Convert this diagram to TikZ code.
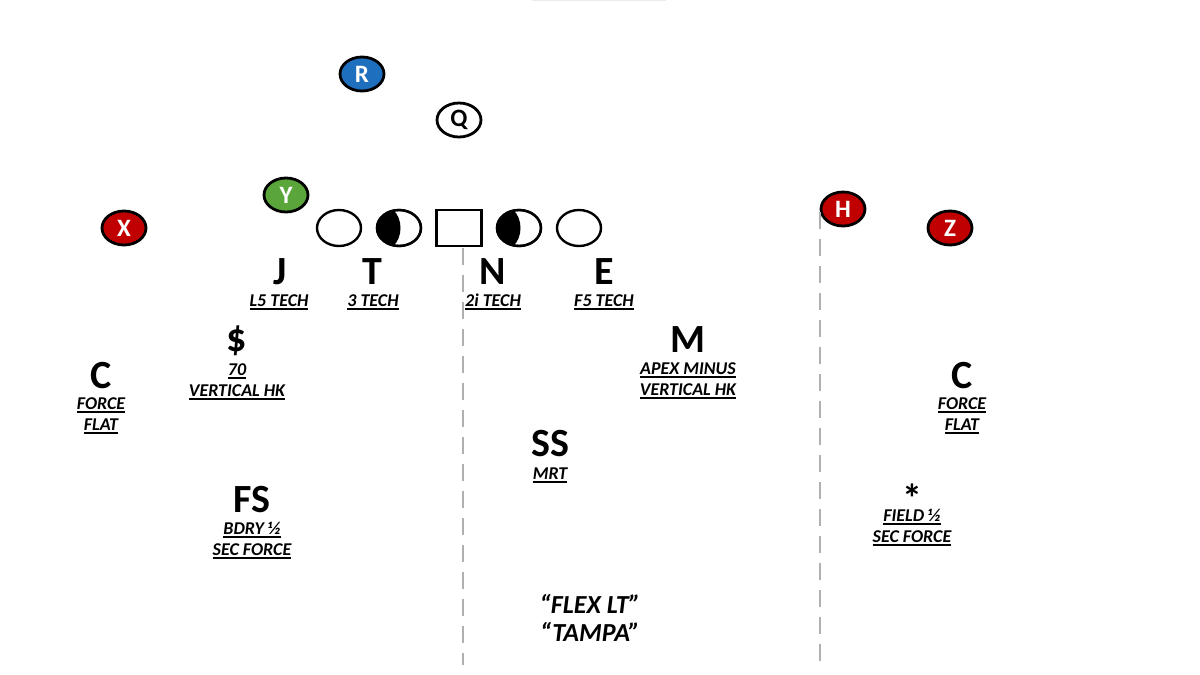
\documentclass[tikz,border=0pt]{standalone}
\usepackage{fontspec}
\setmainfont{Carlito}
\usetikzlibrary{shapes.geometric,calc}
\newcommand\ulx[1]{\leavevmode\vtop{\hbox{#1}\kern2.2pt\hrule height 1.4pt}}
\definecolor{pred}{HTML}{C00000}
\definecolor{pblue}{HTML}{1F6FBF}
\definecolor{pgreen}{HTML}{5AA63A}
\definecolor{dashgray}{HTML}{B0B0B0}
\tikzset{
  player/.style={ellipse, draw=black, line width=2.8pt, minimum width=44, minimum height=34, inner sep=0,
    text=white, font=\fontsize{25}{25}\selectfont\bfseries},
  lineman/.style={ellipse, draw=black, line width=2.4pt, minimum width=44, minimum height=36, inner sep=0},
  ctr/.style={rectangle, draw=black, line width=2.4pt, minimum width=45, minimum height=36, inner sep=0},
  big/.style={anchor=base, inner sep=0, font=\fontsize{40}{40}\selectfont\bfseries},
  sub/.style={anchor=base, inner sep=0, font=\fontsize{18}{18}\selectfont\bfseries\itshape},
  call/.style={anchor=base, inner sep=0, font=\fontsize{26}{26}\selectfont\bfseries\itshape},
  zone/.style={draw=dashgray, line width=2.8pt, dash pattern=on 17pt off 10pt}
}
\begin{document}
\begin{tikzpicture}[x=1pt,y=-1pt]
\useasboundingbox (0,0) rectangle (1200,675);
% faint slide artifact at top
\draw[black!8, line width=1.5pt] (532,0.5) -- (666,0.5);

% offense
\node[player, fill=pblue] (R) at (362,74) {R};
\node[player, fill=white, text=black] (Q) at (459,120) {Q};
\node[player, fill=pgreen] (Y) at (286,195) {Y};
\node[player, fill=pred] (X) at (124,228) {X};
\node[player, fill=pred] (H) at (843,209) {H};
\node[player, fill=pred] (Z) at (950,228) {Z};

\node[lineman] (LT) at (339,228) {};
\node[lineman] (LG) at (399,228) {};
\node[ctr] (OC) at (459,228) {};
\node[lineman] (RG) at (519,228) {};
\node[lineman] (RT) at (579,228) {};

\foreach \n in {LG,RG}{
  \begin{scope}
    \clip (\n.center) ellipse [x radius=22, y radius=18];
    \fill[black] ($(\n.center)+(-30,-25)$) -- ($(\n.center)+(-6,-25)$) -- ($(\n.center)+(-6,-18)$)
      .. controls ($(\n.center)+(4,-10)$) and ($(\n.center)+(4,10)$) .. ($(\n.center)+(-6,18)$)
      -- ($(\n.center)+(-6,25)$) -- ($(\n.center)+(-30,25)$) -- cycle;
  \end{scope}
  \draw[line width=2.4pt] (\n.center) ellipse [x radius=22, y radius=18];
}

% zone lines
\coordinate (d1a) at (463,248);
\coordinate (d1b) at (463,665);
\coordinate (d2a) at (820,212);
\coordinate (d2b) at (820,662);
\draw[zone] (d1a) -- (d1b);
\draw[zone] (d2a) -- (d2b);

% defensive line
\node[big] (J) at (280,284) {J};
\node[sub] (Jt) at (279,306) {\ulx{L5 TECH}};
\node[big] (T) at (372,284) {T};
\node[sub] (Tt) at (373,306) {\ulx{3 TECH}};
\node[big] (N) at (493,284) {N};
\node[sub] (Nt) at (493,306) {\ulx{2i TECH}};
\node[big] (E) at (604,284) {E};
\node[sub] (Et) at (604,306) {\ulx{F5 TECH}};

% linebackers
\node[big] (D) at (237,351) {\$};
\node[sub] (D1) at (237,375) {\ulx{70}};
\node[sub] (D2) at (237,396) {\ulx{VERTICAL HK}};
\node[big] (M) at (688,352) {M};
\node[sub] (M1) at (688,374) {\ulx{APEX MINUS}};
\node[sub] (M2) at (688,395) {\ulx{VERTICAL HK}};

% corners
\node[big] (CL) at (101,388) {C};
\node[sub] (CL1) at (101,409) {\ulx{FORCE}};
\node[sub] (CL2) at (101,430) {\ulx{FLAT}};
\node[big] (CR) at (962,388) {C};
\node[sub] (CR1) at (962,409) {\ulx{FORCE}};
\node[sub] (CR2) at (962,430) {\ulx{FLAT}};

% safeties
\node[big] (SS) at (550,456) {SS};
\node[sub] (SS1) at (550,479) {\ulx{MRT}};
\node[big] (FS) at (252,512) {FS};
\node[sub] (FS1) at (252,534) {\ulx{BDRY ½}};
\node[sub] (FS2) at (252,555) {\ulx{SEC FORCE}};
\node[big] (ST) at (912,512) {\raisebox{0pt}[29pt][-13pt]{*}};
\node[sub] (ST1) at (912,521) {\ulx{FIELD ½}};
\node[sub] (ST2) at (912,542) {\ulx{SEC FORCE}};

% call
\node[call] (C1) at (590,613) {“FLEX LT”};
\node[call] (C2) at (590,641) {“TAMPA”};
\end{tikzpicture}
\end{document}
